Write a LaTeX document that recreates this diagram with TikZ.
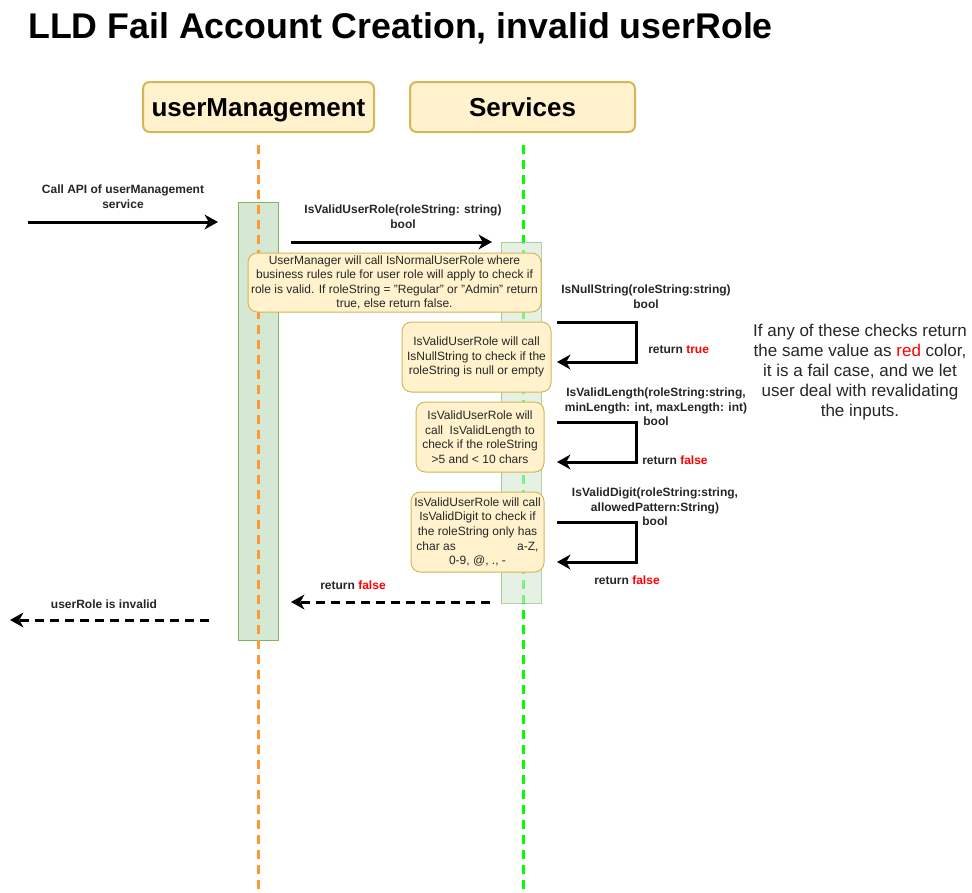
\documentclass[tikz,border=0pt]{standalone}
\usepackage{fontspec}
\setmainfont{Liberation Sans}
\usepackage{xcolor}
\usetikzlibrary{arrows.meta,positioning}
\definecolor{notefill}{HTML}{FFF2CC}
\definecolor{notedraw}{HTML}{D6B656}
\definecolor{actfill}{HTML}{D5E8D4}
\definecolor{actdraw}{HTML}{82B366}
\definecolor{lifeorange}{HTML}{FF9933}
\definecolor{lifegreen}{HTML}{00FF00}
\definecolor{retred}{HTML}{FF0000}
\tikzset{
	head/.style={
		draw=notedraw,
		fill=notefill,
		line width=1.5pt,
		rounded corners=5pt,
		minimum height=37.5pt,
		text height=14.5pt,
		text depth=0pt,
		font=\fontsize{19.5}{21}\selectfont\bfseries
	},
	lifeline/.style={
		line width=2.25pt,
		dash pattern=on 6.75pt off 4.5pt
	},
	actbox/.style={
		draw=actdraw,
		fill=actfill,
		line width=0.75pt,
		minimum width=30pt
	},
	notebox/.style={
		draw=notedraw,
		fill=notefill,
		line width=0.75pt,
		rounded corners=7pt,
		align=center,
		inner sep=1pt,
		text=black!85,
		font=\fontsize{9}{10.9}\selectfont
	},
	msg/.style={
		line width=2.25pt,
		-{Stealth[length=10pt,width=11pt,inset=3pt]}
	},
	retmsg/.style={
		msg,
		dash pattern=on 6.75pt off 4.5pt
	},
	lbl/.style={
		align=center,
		inner sep=0pt,
		text=black!85,
		font=\fontsize{9}{11}\selectfont\bfseries
	}
}
\newcommand{\redval}[1]{\textcolor{retred}{#1}}

\begin{document}
\begin{tikzpicture}[x=0.75pt, y=-0.75pt]
\useasboundingbox (0,0) rectangle (972,893);
\node[anchor=base west, inner sep=0pt, font=\fontsize{26.8}{30}\selectfont\bfseries]
	(title) at (28,38) {LLD Fail Account Creation, invalid userRole};

\node[head, minimum width=173.25pt] (um) at (258.5,107) {userManagement};
\node[head, minimum width=168.75pt] (sv) at (522.5,107) {Services};

\node[actbox, minimum height=328.5pt] (umact) at (258,421) {};
\draw[lifeline, lifeorange] (um.south |- 0,145) -- (um.south |- 0,893);
\draw[lifeline, lifegreen] (523,145) -- (523,893);
\node[actbox, minimum height=270.75pt, opacity=0.6] (svact) at (521,422.5) {};

\coordinate (api) at (28,222);
\coordinate (apiend) at (218,222);
\draw[msg] (api) -- (apiend);
\node[lbl] (apilbl) at (123,197) {Call API of userManagement\\service};

\coordinate (vur) at (291,242);
\coordinate (vurend) at (492,242);
\draw[msg] (vur) -- (vurend);
\node[lbl] (vurlbl) at (403,217) {IsValidUserRole(roleString: string)\\bool};

\node[notebox, minimum width=219.75pt, minimum height=44.25pt] (note1) at (394.5,282.5)
	{UserManager will call IsNormalUserRole where\\business rules rule for user role will apply to check if\\role is valid. If roleString = "Regular" or "Admin" return\\true, else return false.};

\coordinate (nul) at (557,322);
\coordinate (nulend) at (557,362);
\draw[msg] (nul) -- ++(79,0) |- (nulend);
\node[lbl] (nullbl) at (646,297) {IsNullString(roleString:string)\\bool};
\node[lbl, anchor=west] (nulret) at (648,350) {return \redval{true}};
\node[notebox, minimum width=111.75pt, minimum height=52.5pt] (note2) at (476.5,357)
	{IsValidUserRole will call\\IsNullString to check if the\\roleString is null or empty};

\coordinate (len) at (557,422);
\coordinate (lenend) at (557,462);
\draw[msg] (len) -- ++(79,0) |- (lenend);
\node[lbl] (lenlbl) at (656,407) {IsValidLength(roleString:string,\\minLength: int, maxLength: int)\\bool};
\node[lbl, anchor=west] (lenret) at (642,460) {return \redval{false}};
\node[notebox, minimum width=96pt, minimum height=52.5pt] (note3) at (480,437)
	{IsValidUserRole will\\call\ \ IsValidLength to\\check if the roleString\\>5 and < 10 chars};

\coordinate (dig) at (557,522);
\coordinate (digend) at (557,562);
\draw[msg] (dig) -- ++(79,0) |- (digend);
\node[lbl] (diglbl) at (655,507) {IsValidDigit(roleString:string,\\allowedPattern:String)\\bool};
\node[lbl] (digret) at (627,580) {return \redval{false}};
\node[notebox, minimum width=99.75pt, minimum height=60pt] (note4) at (477.5,532)
	{IsValidUserRole will call\\IsValidDigit to check if\\the roleString only has\\char as\hspace{46pt}a-Z,\\0-9, @, ., -};

\coordinate (ret) at (490,602);
\coordinate (retend) at (291,602);
\draw[retmsg] (ret) -- (retend);
\node[lbl] (retlbl) at (353,585) {return \redval{false}};

\coordinate (inv) at (209,620);
\coordinate (invend) at (10,620);
\draw[retmsg] (inv) -- (invend);
\node[lbl] (invlbl) at (104,604) {userRole is invalid};

\node[align=center, inner sep=0pt, text=black!85, font=\fontsize{12.75}{15}\selectfont] (hint) at (860,372)
	{If any of these checks return\\the same value as \redval{red} color,\\it is a fail case, and we let\\user deal with revalidating\\the inputs.};
\end{tikzpicture}
\end{document}
